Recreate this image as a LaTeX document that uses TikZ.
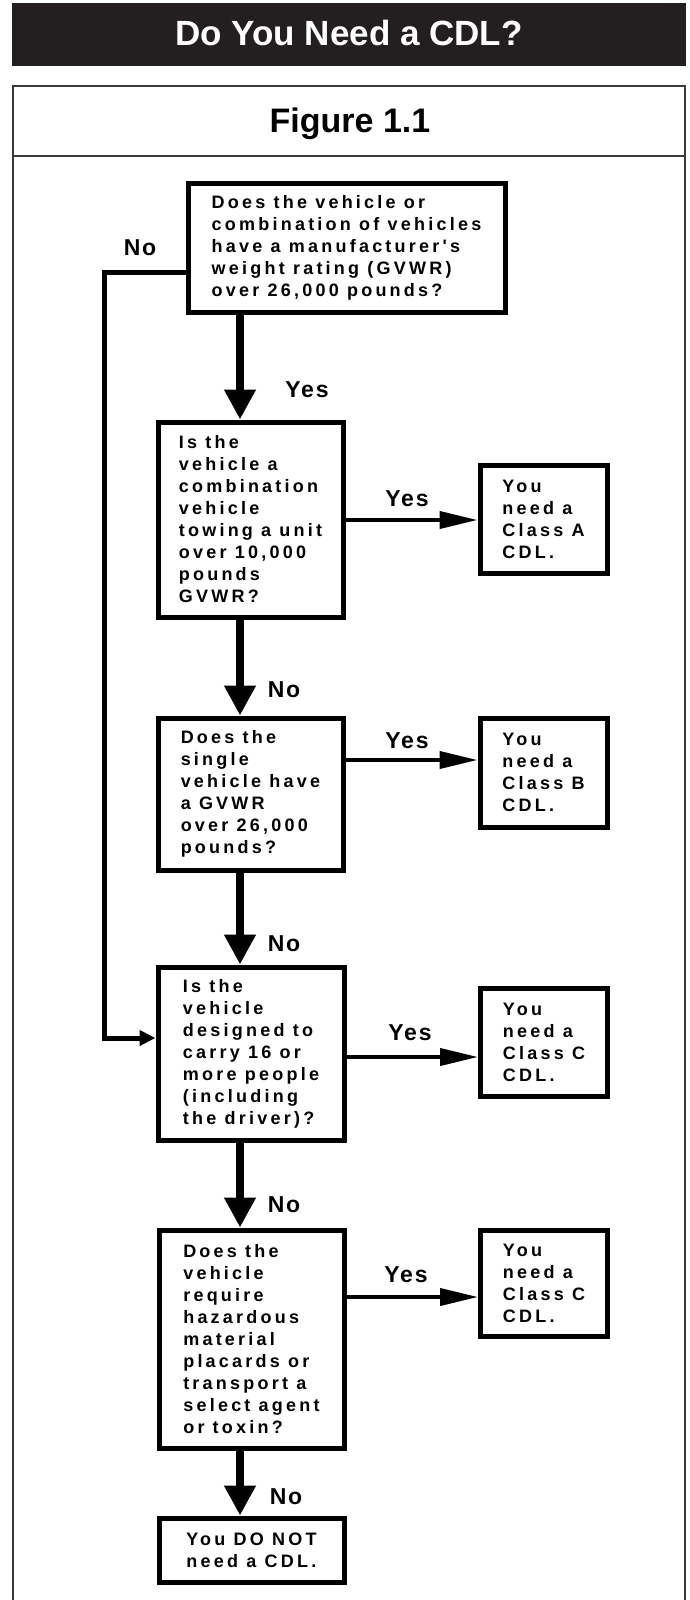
\documentclass[tikz,border=0pt]{standalone}
\usepackage{fontspec}
\setmainfont{Liberation Sans}
\newfontfamily\boxfont[LetterSpace=18]{Liberation Sans}
\newfontfamily\labfont[LetterSpace=8]{Liberation Sans}
\usetikzlibrary{arrows.meta}
\definecolor{barblack}{HTML}{231F20}
\definecolor{framegray}{HTML}{3A3A3A}

\begin{document}
\begin{tikzpicture}[x=1pt,y=-1pt,
	qbox/.style={draw, line width=5pt, align=left, inner sep=0pt,
		font=\boxfont\bfseries\fontsize{18}{22}\selectfont},
	lab/.style={font=\labfont\bfseries\fontsize{23}{26}\selectfont},
	downarrow/.style={line width=8pt, -{Triangle[width=30pt,length=30pt]}},
	yesarrow/.style={line width=4pt, -{Triangle[width=17pt,length=38pt]}},
	noline/.style={line width=5pt, line join=miter, -{Triangle[width=15pt,length=16pt]}}]
	
	\useasboundingbox (0,0) rectangle (689,1600);
	
	% heading and frame
	\fill[barblack] (12,3) rectangle (686,66);
	\node[anchor=base, text=white, font=\bfseries\fontsize{35}{40}\selectfont] (title) at (349,46) {Do You Need a CDL?};
	\draw[framegray, line width=1.5pt] (13,1610) -- (13,86) -- (685,86) -- (685,1610);
	\draw[framegray, line width=1.5pt] (13,156) -- (685,156);
	\node[anchor=base, font=\bfseries\fontsize{34}{40}\selectfont] (fig) at (350,132) {Figure 1.1};
	
	% questions
	\node[qbox, minimum width=317pt, minimum height=129pt] (q1) at (346.5,247.5) {Does the vehicle or\\combination of vehicles\\have a manufacturer's\\weight rating (GVWR)\\over 26,000 pounds?};
	\node[qbox, minimum width=185pt, minimum height=195pt] (q2) at (250.5,519.5) {Is the\\vehicle a\\combination\\vehicle\\towing a unit\\over 10,000\\pounds\\GVWR?};
	\node[qbox, minimum width=185pt, minimum height=152pt] (q3) at (250.5,794) {Does the\\single\\vehicle have\\a GVWR\\over 26,000\\pounds?};
	\node[qbox, minimum width=186pt, minimum height=173pt] (q4) at (251,1053.5) {Is the\\vehicle\\designed to\\carry 16 or\\more people\\(including\\the driver)?};
	\node[qbox, minimum width=185pt, minimum height=218pt] (q5) at (251.5,1339) {Does the\\vehicle\\require\\hazardous\\material\\placards or\\transport a\\select agent\\or toxin?};
	\node[qbox, minimum width=185pt, minimum height=64pt] (done) at (251.5,1550) {You DO NOT\\need a CDL.};
	
	% answers
	\node[qbox, minimum width=127pt, minimum height=108pt] (ca) at (543.5,519.5) {You\\need a\\Class A\\CDL.};
	\node[qbox, minimum width=127pt, minimum height=109pt] (cb) at (543.5,772.5) {You\\need a\\Class B\\CDL.};
	\node[qbox, minimum width=127pt, minimum height=108pt] (cc1) at (544,1042) {You\\need a\\Class C\\CDL.};
	\node[qbox, minimum width=127pt, minimum height=106pt] (cc2) at (544,1283) {You\\need a\\Class C\\CDL.};
	
	% connectors
	\coordinate (trunk) at (240,0);
	\draw[downarrow] (q1.south -| trunk) -- (q2.north -| trunk);
	\draw[downarrow] (q2.south -| trunk) -- (q3.north -| trunk);
	\draw[downarrow] (q3.south -| trunk) -- (q4.north -| trunk);
	\draw[downarrow] (q4.south -| trunk) -- (q5.north -| trunk);
	\draw[downarrow] (q5.south -| trunk) -- (done.north -| trunk);
	
	\coordinate (ya) at (0,520);
	\coordinate (yb) at (0,760);
	\coordinate (yc1) at (0,1057);
	\coordinate (yc2) at (0,1297);
	\draw[yesarrow] (q2.east |- ya) -- (ca.west |- ya);
	\draw[yesarrow] (q3.east |- yb) -- (cb.west |- yb);
	\draw[yesarrow] (q4.east |- yc1) -- (cc1.west |- yc1);
	\draw[yesarrow] (q5.east |- yc2) -- (cc2.west |- yc2);
	
	\coordinate (railtop) at (104,272);
	\coordinate (railbot) at (104,1038);
	\draw[noline] (q1.west |- railtop) -- (railtop) -- (railbot) -- (q4.west |- railbot);
	
	% labels
	\node[lab] (no0) at (140,248) {No};
	\node[lab] (yes1) at (307,390) {Yes};
	\node[lab] (yes2) at (407,499) {Yes};
	\node[lab] (no2) at (284,690) {No};
	\node[lab] (yes3) at (407,741) {Yes};
	\node[lab] (no3) at (284,944) {No};
	\node[lab] (yes4) at (410,1033) {Yes};
	\node[lab] (no4) at (284,1205) {No};
	\node[lab] (yes5) at (406,1275) {Yes};
	\node[lab] (no5) at (286,1497) {No};
	
\end{tikzpicture}
\end{document}
